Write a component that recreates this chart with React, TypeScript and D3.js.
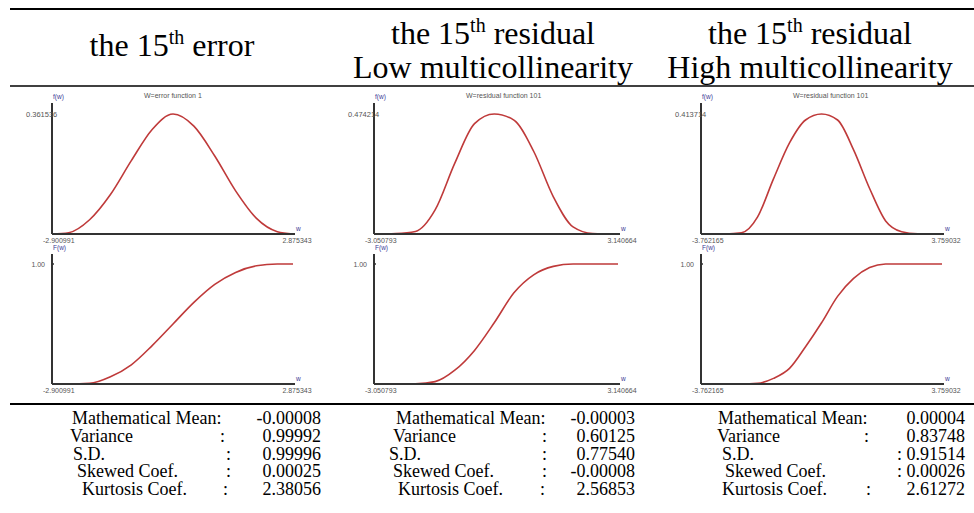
import React from 'react';
import * as d3 from 'd3';

const width = 974;
const height = 513;
const red = '#bf3a3a';
const axisColor = '#333';
const blueText = '#3a3a96';
const grayText = '#555';
const serif = '"Liberation Serif", "Times New Roman", serif';
const sans = '"Liberation Sans", Arial, sans-serif';

// headers
const headerKind = ['error', 'residual', 'residual'];
const headerSub = ['', 'Low multicollinearity', 'High multicollinearity'];
const chartTitles = ['W=error function 1', 'W=residual function 101', 'W=residual function 101'];

// the 15th error
const errW = [-2.900991, -2.5, -2.0, -1.5, -1.0, -0.5, 0, 0.5, 1.0, 1.5, 2.0, 2.5, 2.875343];
const errPdf = [0, 0.004, 0.043, 0.119, 0.221, 0.315, 0.361536, 0.325, 0.235, 0.13, 0.047, 0.007, 0];
const errCdf = [0, 0, 0.005, 0.06, 0.16, 0.32, 0.5, 0.68, 0.83, 0.93, 0.985, 1.0, 1.0];

// residual, low multicollinearity
const lowW = [-3.050793, -2.5, -2.0, -1.5, -1.0, -0.5, 0, 0.5, 1.0, 1.5, 2.0, 2.5, 3.140664];
const lowPdf = [0, 0.002, 0.01, 0.095, 0.28, 0.436, 0.474214, 0.45, 0.327, 0.147, 0.028, 0.002, 0];
const lowCdf = [0, 0, 0.002, 0.02, 0.115, 0.28, 0.51, 0.76, 0.91, 0.98, 1.0, 1.0, 1.0];

// residual, high multicollinearity
const highW = [-3.762165, -3.0, -2.5, -2.0, -1.5, -1.0, -0.5, 0, 0.5, 1.0, 1.5, 2.0, 2.5, 3.0, 3.759032];
const highPdf = [0, 0, 0.004, 0.058, 0.19, 0.314, 0.393, 0.413714, 0.393, 0.29, 0.157, 0.045, 0.008, 0.001, 0];
const highCdf = [0, 0, 0, 0.005, 0.047, 0.13, 0.31, 0.51, 0.73, 0.88, 0.97, 1.0, 1.0, 1.0, 1.0];

// summary statistics
const statLabels = ['Mathematical Mean:', 'Variance', 'S.D.', 'Skewed Coef.', 'Kurtosis Coef.'];
const errStats = [-0.00008, 0.99992, 0.99996, 0.00025, 2.38056];
const lowStats = [-0.00003, 0.60125, 0.7754, -0.00008, 2.56853];
const highStats = [0.00004, 0.83748, 0.91514, 0.00026, 2.61272];

// layout per column
const cols = [
  {w: errW, pdf: errPdf, cdf: errCdf, stats: errStats, axisX: 52, xEnd: 293, cx: 172,
    labelX: [72, 70, 73, 77, 82], colonX: [220, 226, 226, 223], valueX: 321},
  {w: lowW, pdf: lowPdf, cdf: lowCdf, stats: lowStats, axisX: 374, xEnd: 618, cx: 493,
    labelX: [396, 393, 389, 393, 398], colonX: [542, 542, 542, 540], valueX: 635},
  {w: highW, pdf: highPdf, cdf: highCdf, stats: highStats, axisX: 701, xEnd: 942, cx: 810,
    labelX: [718, 717, 722, 725, 722], colonX: [864, 897, 897, 866], valueX: 965},
];

const pdfBox = {top: 103, peak: 114, base: 234};
const cdfBox = {top: 254, peak: 264, base: 384};
const statBase = 424;
const statStep = 17.8;

type ChartProps = {
  w: number[],
  v: number[],
  axisX: number,
  xEnd: number,
  box: {top: number, peak: number, base: number},
  yLabel: string,
  fLabel: string,
  title?: string,
  labelInside: boolean
};

const Chart: React.FC<ChartProps> = ({w, v, axisX, xEnd, box, yLabel, fLabel, title, labelInside}) => {
  const xScale = d3.scaleLinear()
    .domain([w[0], w[w.length - 1]])
    .range([axisX, xEnd]);
  const yScale = d3.scaleLinear()
    .domain([0, d3.max(v) as number])
    .range([box.base, box.peak]);

  const line = d3.line<number>()
    .x((_, i) => xScale(w[i]))
    .y(d => yScale(d))
    .curve(d3.curveMonotoneX);

  return (
    <g>
      <path d={line(v) || ''} fill='none' stroke={red} strokeWidth={1.6} />
      <line x1={axisX} x2={axisX} y1={box.top} y2={box.base} stroke={axisColor} strokeWidth={2} />
      <line x1={axisX} x2={xEnd + 2} y1={box.base} y2={box.base} stroke={axisColor} strokeWidth={2} />
      <text x={axisX + 1} y={box.top - 4} fontFamily={sans} fontSize={6.5} fill={blueText}>{fLabel}</text>
      {title && <text x={axisX + 92} y={box.top - 5} fontFamily={sans} fontSize={7} fill={grayText}>{title}</text>}
      {labelInside
        ? <text x={axisX - 26} y={box.peak + 2.5} fontFamily={sans} fontSize={7.5} fill={grayText}>{yLabel}</text>
        : <>
            <text x={axisX - 7} y={box.peak + 2.5} textAnchor='end' fontFamily={sans} fontSize={7} fill={grayText}>{yLabel}</text>
            <circle cx={axisX + 1} cy={box.peak} r={1} fill={axisColor} />
          </>}
      <text x={xEnd + 3} y={box.base - 3} fontFamily={sans} fontSize={6.5} fill={blueText}>w</text>
      <text x={axisX - 9} y={box.base + 9} fontFamily={sans} fontSize={7} fill={grayText}>{w[0].toFixed(6)}</text>
      <text x={xEnd + 4} y={box.base + 9} textAnchor='middle' fontFamily={sans} fontSize={7} fill={grayText}>{w[w.length - 1].toFixed(6)}</text>
    </g>
  );
};

const App: React.FC = () => {
  return (
    <svg width={width} height={height} style={{position: 'absolute', left: 0, top: 0}}>
      <rect width={width} height={height} fill='#fff' />
      <line x1={10} x2={974} y1={9} y2={9} stroke='#000' strokeWidth={2} />
      <line x1={10} x2={974} y1={86} y2={86} stroke='#000' strokeWidth={1.6} />
      <line x1={10} x2={974} y1={404} y2={404} stroke='#000' strokeWidth={2} />

      {cols.map((c, i) => (
        <g key={i}>
          <text x={c.cx} y={headerSub[i] ? 44 : 56} textAnchor='middle' fontFamily={serif} fontSize={32} fill='#000'>
            the 15<tspan dy={-12} fontSize={20}>th</tspan><tspan dy={12}>{' ' + headerKind[i]}</tspan>
          </text>
          {headerSub[i] &&
            <text x={c.cx} y={78} textAnchor='middle' fontFamily={serif} fontSize={32} fill='#000'>{headerSub[i]}</text>}

          <Chart w={c.w} v={c.pdf} axisX={c.axisX} xEnd={c.xEnd} box={pdfBox}
            yLabel={String(d3.max(c.pdf))} fLabel='f(w)' title={chartTitles[i]} labelInside={true} />
          <Chart w={c.w} v={c.cdf} axisX={c.axisX} xEnd={c.xEnd} box={cdfBox}
            yLabel={d3.format('.2f')(d3.max(c.cdf) as number)} fLabel='F(w)' labelInside={false} />

          {statLabels.map((s, k) => (
            <g key={k} fontFamily={serif} fontSize={18} fill='#000'>
              <text x={c.labelX[k]} y={statBase + k * statStep}>{s}</text>
              {k > 0 && <text x={c.colonX[k - 1]} y={statBase + k * statStep}>:</text>}
              <text x={c.valueX} y={statBase + k * statStep} textAnchor='end'>{c.stats[k].toFixed(5)}</text>
            </g>
          ))}
        </g>
      ))}
    </svg>
  );
};

export default App;
